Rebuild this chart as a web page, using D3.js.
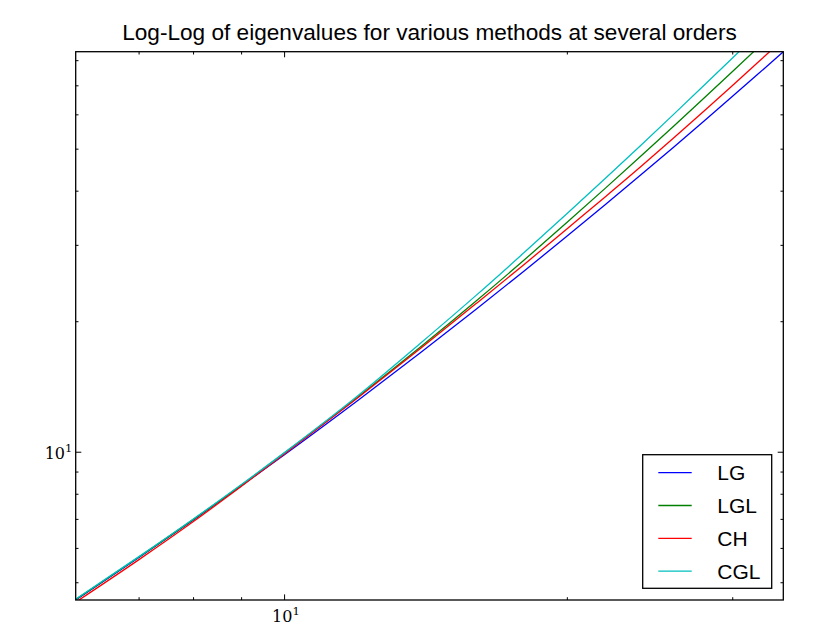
<!DOCTYPE html>
<html>
<head>
<meta charset="utf-8">
<script src="https://cdn.jsdelivr.net/npm/d3@7/dist/d3.min.js"></script>
<style>
  body { margin: 0; background: #fff; }
  svg { display: block; }
</style>
</head>
<body>
<script>
'use strict'

// order of the method (x) and eigenvalue magnitude (y) per method
var orders = [6, 7, 8, 9, 10, 12, 14, 16, 18, 20, 22, 24, 26, 28, 30, 32, 34]
var lgVals  = [4.550, 5.695, 6.955, 8.333, 9.825, 13.16, 16.98, 21.28, 26.08, 31.39, 37.22, 43.58, 50.47, 57.92, 65.93, 74.51, 83.68]
var lglVals = [4.560, 5.708, 6.972, 8.371, 9.916, 13.41, 17.50, 22.23, 27.64, 33.78, 40.60, 48.13, 56.40, 65.41, 75.19, 85.79, 97.18]
var chVals  = [4.498, 5.630, 6.892, 8.314, 9.870, 13.35, 17.37, 21.93, 27.00, 32.65, 38.79, 45.52, 52.97, 61.07, 69.83, 79.29, 89.45]
var cglVals = [4.571, 5.721, 6.988, 8.391, 9.939, 13.50, 17.86, 22.91, 28.76, 35.39, 42.78, 51.00, 60.06, 69.99, 80.81, 92.56, 105.2]

var seriesNames  = ['LG', 'LGL', 'CH', 'CGL']
var seriesColors = ['#0000ff', '#008000', '#ff0000', '#00bfbf']

var xMajor = [10], xMinor = [7, 8, 9, 20, 30]
var yMajor = [10], yMinor = [5, 6, 7, 8, 9, 20, 30, 40, 50, 60, 70, 80]
var xLimits = [6, 34], yLimits = [4.55, 83.68]

var W = 818, H = 644
  , pl = 75.7, pr = 783.3, pt = 51.7, pb = 600
  , majorLen = 5.6, minorLen = 2.8

var svg = d3.select('body').append('svg').attr('width', W).attr('height', H)

var x = d3.scaleLog().domain(xLimits).range([pl, pr])
  , y = d3.scaleLog().domain(yLimits).range([pb, pt])

svg.append('clipPath').attr('id', 'plotclip')
  .append('rect').attr('x', pl).attr('y', pt)
  .attr('width', pr - pl).attr('height', pb - pt)

// curves
var series = [lgVals, lglVals, chVals, cglVals].map(function(vals, i){
  return { name: seriesNames[i], color: seriesColors[i]
    , pts: orders.map(function(o, j){ return [o, vals[j]] }) }
})

var line = d3.line()
  .curve(d3.curveMonotoneX)
  .x(function(d){ return x(d[0]) })
  .y(function(d){ return y(d[1]) })

svg.append('g').attr('clip-path', 'url(#plotclip)')
  .selectAll('path').data(series).enter().append('path')
  .attr('d', function(d){ return line(d.pts) })
  .attr('fill', 'none')
  .attr('stroke', function(d){ return d.color })
  .attr('stroke-width', 1.3)

// ticks, pointing inward on all four sides
function ticks(axis, tr, vals, len){
  var g = svg.append('g').attr('transform', tr)
    .call(axis.tickValues(vals).tickSizeInner(-len).tickSizeOuter(0).tickFormat(''))
  g.select('.domain').remove()
  g.selectAll('line').attr('stroke', '#000').attr('stroke-width', 1)
}
ticks(d3.axisBottom(x), 'translate(0,' + pb + ')', xMajor, majorLen)
ticks(d3.axisBottom(x), 'translate(0,' + pb + ')', xMinor, minorLen)
ticks(d3.axisTop(x), 'translate(0,' + pt + ')', xMajor, majorLen)
ticks(d3.axisTop(x), 'translate(0,' + pt + ')', xMinor, minorLen)
ticks(d3.axisLeft(y), 'translate(' + pl + ',0)', yMajor, majorLen)
ticks(d3.axisLeft(y), 'translate(' + pl + ',0)', yMinor, minorLen)
ticks(d3.axisRight(y), 'translate(' + pr + ',0)', yMajor, majorLen)
ticks(d3.axisRight(y), 'translate(' + pr + ',0)', yMinor, minorLen)

// frame
svg.append('rect')
  .attr('x', pl).attr('y', pt)
  .attr('width', pr - pl).attr('height', pb - pt)
  .attr('fill', 'none').attr('stroke', '#000').attr('stroke-width', 1.3)

// tick labels as 10^n
function powLabel(sel){
  sel.attr('font-family', '"DejaVu Serif", "Liberation Serif", serif')
    .attr('font-size', 16).attr('fill', '#000')
  sel.append('tspan').text('10')
  sel.append('tspan').attr('dy', -7).attr('font-size', 11.5)
    .text(function(d){ return String(Math.round(Math.log10(d))) })
}
svg.append('g').selectAll('text').data(xMajor).enter().append('text')
  .attr('x', function(d){ return x(d) - 12 }).attr('y', pb + 21.5)
  .call(powLabel)
svg.append('g').selectAll('text').data(yMajor).enter().append('text')
  .attr('x', pl - 31).attr('y', function(d){ return y(d) + 7 })
  .call(powLabel)

// title
var title = svg.append('text')
  .attr('x', (pl + pr) / 2).attr('y', 40)
  .attr('text-anchor', 'middle')
  .attr('font-family', '"Liberation Sans", Arial, sans-serif')
  .attr('font-size', 20).attr('fill', '#000')
  .text('Log-Log of eigenvalues for various methods at several orders')
var tw = title.node().getComputedTextLength()
title.attr('font-size', 20 * 615 / tw)

// legend
var lgX = 642.7, lgY = 454.7, lgW = 129, lgH = 133.6, rowH = 32.8
var legend = svg.append('g')
legend.append('rect')
  .attr('x', lgX).attr('y', lgY).attr('width', lgW).attr('height', lgH)
  .attr('fill', '#fff').attr('stroke', '#000').attr('stroke-width', 1.3)
var rows = legend.selectAll('g.row').data(series).enter().append('g')
  .attr('class', 'row')
  .attr('transform', function(d, i){ return 'translate(0,' + (472.7 + i * rowH) + ')' })
rows.append('line')
  .attr('x1', 658.3).attr('x2', 691.7)
  .attr('stroke', function(d){ return d.color }).attr('stroke-width', 1.3)
rows.append('text')
  .attr('x', 717.3).attr('y', 7.5)
  .attr('font-family', '"Liberation Sans", Arial, sans-serif')
  .attr('font-size', 21).attr('fill', '#000')
  .text(function(d){ return d.name })
</script>
</body>
</html>
